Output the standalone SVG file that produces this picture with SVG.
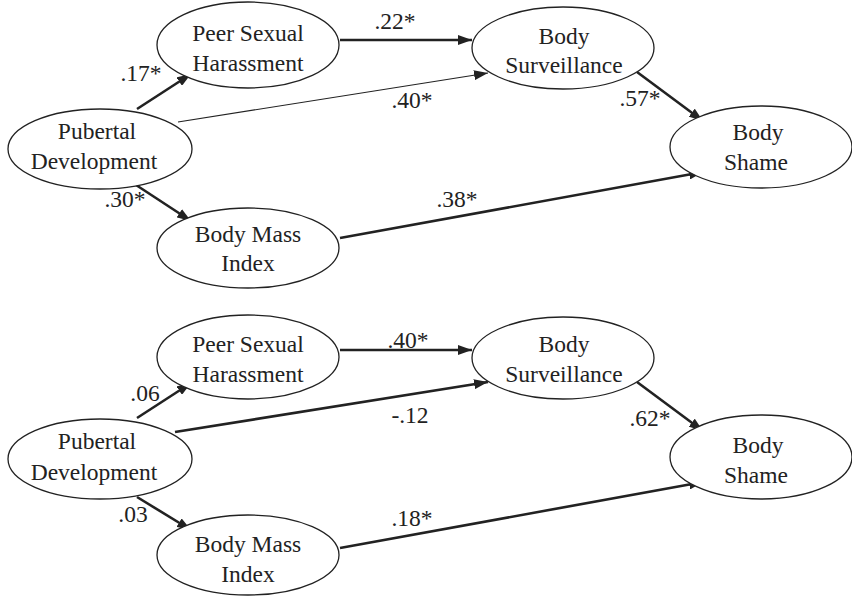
<svg xmlns="http://www.w3.org/2000/svg" width="852" height="596" viewBox="0 0 852 596">
<defs>
<style>
.n ellipse{fill:#fff;stroke:#222;stroke-width:1.3}
text{font-family:'Liberation Serif','Tinos','Times New Roman','DejaVu Serif',serif;font-size:23.5px;fill:#222;text-anchor:middle}
.e{stroke:#222;fill:none}
.thick{stroke-width:2.6}
.thin{stroke-width:1.2}
</style>
<marker id="ah" viewBox="0 0 14 10" refX="14" refY="5" markerWidth="14" markerHeight="10" markerUnits="userSpaceOnUse" orient="auto">
<path d="M0,0 L14,5 L0,10 Z" fill="#222"/>
</marker>
</defs>
<rect width="852" height="596" fill="#fff"/>

<g id="connectors">
<line class="e thick" x1="340" y1="40" x2="472" y2="40" marker-end="url(#ah)"/>
<line class="e thick" x1="137" y1="109" x2="191" y2="74" marker-end="url(#ah)"/>
<line class="e thin" x1="178" y1="122" x2="488" y2="73" marker-end="url(#ah)"/>
<line class="e thick" x1="133" y1="183" x2="191" y2="221" marker-end="url(#ah)"/>
<line class="e thick" x1="637" y1="72" x2="703" y2="121" marker-end="url(#ah)"/>
<line class="e thick" x1="340" y1="238" x2="703" y2="172" marker-end="url(#ah)"/>
<line class="e thick" x1="340" y1="350" x2="472" y2="350" marker-end="url(#ah)"/>
<line class="e thick" x1="137" y1="418" x2="191" y2="383" marker-end="url(#ah)"/>
<line class="e thick" x1="175" y1="432" x2="488" y2="382" marker-end="url(#ah)"/>
<line class="e thick" x1="137" y1="497" x2="191" y2="530" marker-end="url(#ah)"/>
<line class="e thick" x1="637" y1="382" x2="703" y2="431" marker-end="url(#ah)"/>
<line class="e thick" x1="340" y1="548" x2="703" y2="482" marker-end="url(#ah)"/>
</g>

<g id="labels">
<text x="395" y="29">.22*</text>
<text x="141" y="81">.17*</text>
<text x="412" y="108">.40*</text>
<text x="125" y="207">.30*</text>
<text x="640" y="106">.57*</text>
<text x="457" y="207">.38*</text>
<text x="408" y="348">.40*</text>
<text x="145" y="401">.06</text>
<text x="410" y="423">-.12</text>
<text x="133" y="522">.03</text>
<text x="412" y="526">.18*</text>
<text x="650" y="426">.62*</text>
</g>

<g id="top-pubertal" class="n"><ellipse cx="100" cy="149" rx="92" ry="40"/><text x="97" y="139">Pubertal</text><text x="94" y="169">Development</text></g>
<g id="top-psh" class="n"><ellipse cx="248" cy="45" rx="91" ry="43"/><text x="248" y="41">Peer Sexual</text><text x="248" y="71">Harassment</text></g>
<g id="top-bmi" class="n"><ellipse cx="248" cy="248" rx="91" ry="40"/><text x="248" y="242">Body Mass</text><text x="248" y="271">Index</text></g>
<g id="top-bs" class="n"><ellipse cx="563" cy="48" rx="91" ry="41"/><text x="564" y="44">Body</text><text x="564" y="73">Surveillance</text></g>
<g id="top-shame" class="n"><ellipse cx="761" cy="147" rx="91" ry="41"/><text x="758" y="140">Body</text><text x="756" y="170">Shame</text></g>

<g id="bot-pubertal" class="n"><ellipse cx="100" cy="459" rx="92" ry="40"/><text x="97" y="449">Pubertal</text><text x="94" y="480">Development</text></g>
<g id="bot-psh" class="n"><ellipse cx="248" cy="357" rx="91" ry="42"/><text x="248" y="352">Peer Sexual</text><text x="248" y="382">Harassment</text></g>
<g id="bot-bmi" class="n"><ellipse cx="248" cy="555" rx="91" ry="40"/><text x="248" y="552">Body Mass</text><text x="248" y="582">Index</text></g>
<g id="bot-bs" class="n"><ellipse cx="563" cy="358" rx="91" ry="41"/><text x="564" y="352">Body</text><text x="564" y="382">Surveillance</text></g>
<g id="bot-shame" class="n"><ellipse cx="761" cy="457" rx="91" ry="42"/><text x="758" y="453">Body</text><text x="756" y="483">Shame</text></g>
</svg>
